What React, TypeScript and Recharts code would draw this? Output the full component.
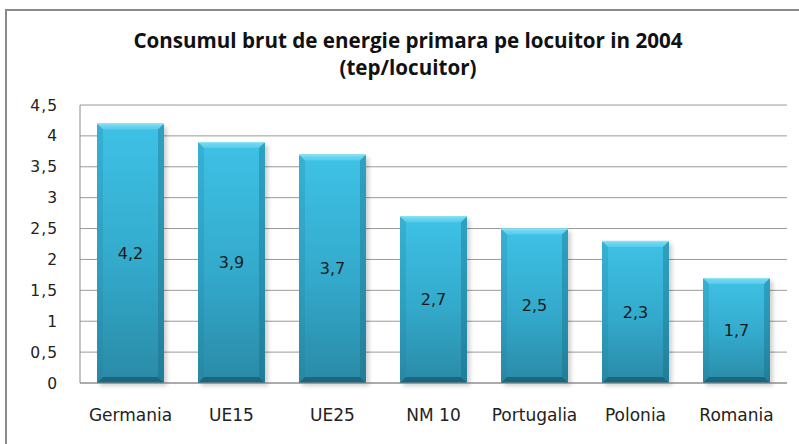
import React from "react";
import { BarChart, Bar, XAxis, YAxis, CartesianGrid, LabelList } from "recharts";

const categories = ["Germania", "UE15", "UE25", "NM 10", "Portugalia", "Polonia", "Romania"];
const values = [4.2, 3.9, 3.7, 2.7, 2.5, 2.3, 1.7];
const yTicks = [0, 0.5, 1, 1.5, 2, 2.5, 3, 3.5, 4, 4.5];
const titleLines = ["Consumul brut de energie primara pe locuitor in 2004", "(tep/locuitor)"];

const data = categories.map((c, i) => ({ name: c, value: values[i] }));

const fmt = (v: number) => String(v).replace(".", ",");

const BevelBar = (props: any) => {
  const { x, y, width, height } = props;
  if (!height || height <= 0) return null;
  const b = Math.min(6, height / 2);
  const w = width;
  const h = height;
  return (
    <g>
      <rect x={x + 3} y={y + 3} width={w} height={h} fill="#000" opacity={0.18} filter="url(#barShadow)" />
      <rect x={x} y={y} width={w} height={h} fill="url(#mainGrad)" />
      <polygon
        points={`${x},${y} ${x + w},${y} ${x + w - b},${y + b} ${x + b},${y + b}`}
        fill="url(#topBevel)"
      />
      <polygon
        points={`${x},${y} ${x + b},${y + b} ${x + b},${y + h - b} ${x},${y + h}`}
        fill="#1f7f9c"
        opacity={0.25}
      />
      <polygon
        points={`${x + w},${y} ${x + w},${y + h} ${x + w - b},${y + h - b} ${x + w - b},${y + b}`}
        fill="#14637b"
        opacity={0.35}
      />
      <polygon
        points={`${x},${y + h} ${x + b},${y + h - b} ${x + w - b},${y + h - b} ${x + w},${y + h}`}
        fill="#124f63"
        opacity={0.6}
      />
      <line x1={x} y1={y + 0.5} x2={x + w} y2={y + 0.5} stroke="#8fe3f8" strokeWidth={1} />
    </g>
  );
};

export default function App() {
  return (
    <div
      style={{
        position: "absolute",
        left: 0,
        top: 0,
        width: 799,
        height: 444,
        overflow: "hidden",
        background: "#fff",
      }}
    >
      <div
        style={{
          position: "absolute",
          left: 5,
          top: 9,
          width: 900,
          height: 600,
          borderLeft: "2px solid #8a8a8a",
          borderTop: "2px solid #8a8a8a",
        }}
      />
      <div
        style={{
          position: "absolute",
          left: 0,
          top: 27,
          width: 816,
          textAlign: "center",
          fontFamily: "'Open Sans', sans-serif",
          fontWeight: 700,
          fontSize: 20.6,
          lineHeight: "27px",
          color: "#111",
        }}
      >
        <div>{titleLines[0]}</div>
        <div>{titleLines[1]}</div>
      </div>
      <div style={{ position: "absolute", left: 0, top: 0 }}>
        <BarChart
          width={799}
          height={444}
          data={data}
          margin={{ top: 105, right: 12, bottom: 61 - 35, left: 0 }}
        >
          <defs>
            <linearGradient id="mainGrad" x1="0" y1="0" x2="0" y2="1">
              <stop offset="0%" stopColor="#3ec2e6" />
              <stop offset="55%" stopColor="#33a9cb" />
              <stop offset="100%" stopColor="#2a8aa6" />
            </linearGradient>
            <linearGradient id="topBevel" x1="0" y1="0" x2="0" y2="1">
              <stop offset="0%" stopColor="#7fdcf4" />
              <stop offset="100%" stopColor="#55cbea" />
            </linearGradient>
            <filter id="barShadow" x="-20%" y="-20%" width="140%" height="140%">
              <feGaussianBlur stdDeviation="2" />
            </filter>
          </defs>
          <CartesianGrid vertical={false} stroke="#9a9a9a" strokeWidth={1} />
          <XAxis
            dataKey="name"
            height={35}
            axisLine={{ stroke: "#8a8a8a" }}
            tickLine={false}
            tickMargin={20}
            interval={0}
            tick={{ fill: "#222", fontSize: 17, fontFamily: "'DejaVu Sans', sans-serif" }}
          />
          <YAxis
            width={80}
            domain={[0, 4.5]}
            ticks={yTicks}
            interval={0}
            tickFormatter={fmt}
            axisLine={{ stroke: "#8a8a8a" }}
            tickLine={false}
            tickMargin={16}
            tick={{ fill: "#222", fontSize: 15.5, fontFamily: "'DejaVu Sans', sans-serif", letterSpacing: 1 }}
          />
          <Bar dataKey="value" barSize={67} shape={<BevelBar />} isAnimationActive={false}>
            <LabelList
              dataKey="value"
              position="center"
              formatter={(v: any) => fmt(Number(v))}
              style={{ fill: "#1a1a1a", fontSize: 16, fontFamily: "'DejaVu Sans', sans-serif" }}
            />
          </Bar>
        </BarChart>
      </div>
    </div>
  );
}
